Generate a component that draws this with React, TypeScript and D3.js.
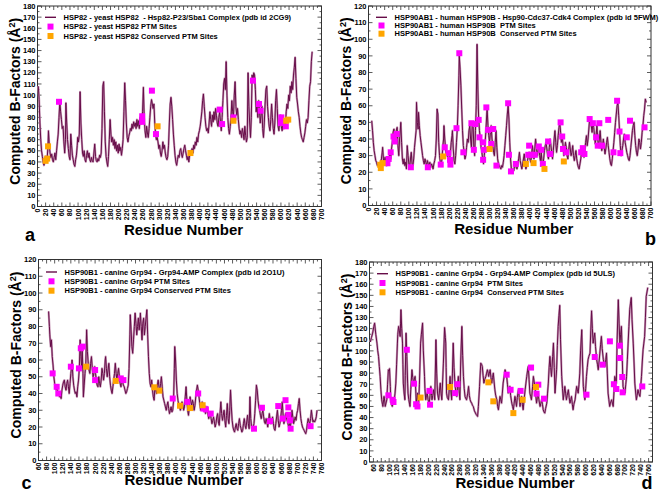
import React from 'react';
import * as d3 from 'd3';

type P = [number, number];

// ---------- Panel a : yeast HSP82 (2CG9) ----------
const lineA: P[] = [[2,108],[4,96],[6,75],[8,60],[10,50],[12,45],[14,40],[16,37],[18,42],[20,45],[22,40],[24,44],[26,55],[27,68],[29,55],[31,48],[33,44],[35,47],[37,42],[39,40],[41,44],[43,48],[45,42],[47,50],[49,58],[51,65],[53,80],[55,94],[57,85],[59,78],[61,70],[63,72],[65,58],[67,48],[69,60],[70,93],[72,75],[74,60],[76,52],[78,45],[80,42],[82,65],[84,55],[86,46],[88,42],[90,38],[92,36],[94,42],[96,46],[98,55],[99,62],[101,58],[103,65],[105,103],[107,75],[109,60],[111,48],[113,45],[115,50],[117,42],[119,40],[121,46],[123,50],[125,44],[127,48],[129,42],[131,40],[133,44],[135,41],[137,40],[139,48],[141,56],[143,45],[145,41],[147,40],[149,43],[151,41],[153,46],[155,44],[157,48],[159,70],[161,108],[163,112],[165,85],[167,58],[169,45],[171,40],[173,36],[175,45],[177,60],[179,78],[181,65],[183,58],[185,62],[187,55],[189,60],[191,52],[193,58],[195,50],[197,55],[199,48],[201,56],[203,50],[205,53],[207,46],[209,52],[211,60],[213,85],[215,111],[217,95],[219,75],[221,62],[223,58],[225,63],[227,66],[229,70],[231,68],[233,74],[235,70],[237,76],[239,72],[241,75],[243,70],[245,78],[247,72],[249,77],[251,70],[253,80],[255,74],[257,78],[259,85],[261,107],[263,80],[265,68],[267,62],[269,72],[271,66],[273,62],[275,70],[277,80],[279,90],[281,96],[283,92],[285,88],[287,92],[289,75],[291,65],[293,60],[295,62],[297,58],[299,52],[301,55],[303,48],[305,45],[307,50],[309,58],[311,52],[313,55],[315,48],[317,44],[319,42],[321,45],[323,55],[325,75],[327,92],[329,98],[331,90],[333,78],[335,65],[337,55],[339,46],[341,40],[343,37],[345,42],[347,46],[349,44],[351,50],[353,52],[355,47],[357,44],[359,48],[361,52],[363,55],[365,50],[367,46],[369,42],[371,45],[373,40],[375,46],[377,50],[379,47],[381,52],[383,48],[385,55],[387,52],[389,58],[391,55],[393,62],[395,58],[397,65],[399,68],[401,72],[403,78],[405,85],[407,95],[409,101],[411,90],[413,80],[415,72],[417,68],[419,70],[421,66],[423,75],[425,85],[427,78],[429,72],[431,82],[433,76],[435,85],[437,78],[439,88],[441,82],[443,75],[445,72],[447,80],[449,85],[451,76],[453,68],[455,80],[457,95],[459,110],[461,115],[463,105],[465,130],[467,100],[469,80],[471,70],[473,65],[475,72],[477,80],[479,95],[481,85],[483,80],[485,100],[487,112],[489,90],[491,82],[493,88],[495,78],[497,70],[499,65],[501,68],[503,62],[505,70],[507,66],[509,60],[511,72],[513,64],[515,58],[517,62],[519,120],[521,90],[523,75],[525,62],[527,80],[529,118],[531,112],[533,120],[535,118],[537,105],[539,85],[541,92],[543,80],[545,95],[547,88],[549,75],[551,82],[553,90],[555,70],[557,62],[559,75],[561,92],[563,105],[565,108],[567,90],[569,80],[571,72],[573,68],[575,78],[577,92],[579,80],[581,70],[583,65],[585,75],[587,95],[589,105],[591,88],[593,72],[595,68],[597,78],[599,82],[601,72],[603,68],[605,75],[607,70],[609,78],[611,72],[613,85],[615,92],[617,88],[619,100],[621,95],[623,108],[625,102],[627,112],[629,105],[631,118],[633,125],[635,134],[637,115],[639,98],[641,92],[643,85],[645,80],[647,72],[649,66],[651,62],[653,60],[655,58],[657,62],[659,66],[661,72],[663,78],[665,75],[667,80],[669,95],[671,108],[673,112],[675,130],[677,139]];
const ptmA: P[] = [[53,94],[258,81],[258,76],[282,104],[292,65],[449,87],[455,74],[483,80],[531,113],[546,92],[550,86],[601,80],[600,75],[612,72]];
const consA: P[] = [[20,41],[24,43],[26,54],[296,72],[377,48],[483,77],[613,77],[618,78]];

// ---------- Panel b : human HSP90B (5FWM) ----------
const lineB: P[] = [[8,51],[10,45],[12,38],[14,33],[16,30],[18,27],[20,26],[22,24],[24,25],[26,23],[28,24],[30,26],[32,28],[34,32],[35,35],[37,28],[39,26],[41,29],[43,26],[45,24],[47,27],[49,25],[51,29],[53,31],[55,28],[57,34],[59,38],[61,44],[63,46],[65,40],[67,38],[69,45],[71,47],[73,36],[75,30],[77,40],[79,46],[80,50],[82,38],[84,28],[86,25],[88,28],[90,24],[92,26],[94,22],[96,36],[98,30],[100,25],[102,23],[104,28],[106,32],[108,25],[110,24],[112,28],[114,35],[116,40],[118,45],[119,62],[121,50],[123,46],[124,56],[126,48],[128,42],[130,38],[132,34],[134,30],[136,27],[138,25],[140,28],[142,26],[144,24],[146,27],[148,25],[150,24],[152,26],[154,23],[156,25],[158,24],[160,22],[162,25],[164,27],[166,30],[168,40],[170,58],[172,55],[174,38],[176,30],[178,26],[180,24],[182,28],[184,35],[186,40],[187,48],[189,40],[191,34],[193,30],[195,32],[197,28],[199,26],[201,28],[203,32],[205,38],[207,42],[208,45],[210,34],[212,27],[214,25],[216,30],[218,38],[220,46],[222,60],[224,78],[225,90],[227,82],[229,72],[231,58],[233,45],[235,36],[237,32],[239,28],[241,30],[243,35],[245,40],[247,38],[249,45],[251,48],[253,40],[255,35],[257,48],[259,50],[261,35],[263,30],[265,45],[267,60],[269,97],[271,70],[273,52],[275,45],[277,40],[279,35],[281,32],[283,28],[285,25],[287,30],[289,38],[291,45],[293,55],[294,58],[296,48],[298,42],[300,38],[302,44],[304,48],[306,40],[308,36],[310,32],[312,30],[314,38],[316,45],[318,35],[320,28],[322,25],[324,24],[326,23],[328,22],[330,24],[332,23],[334,26],[336,30],[338,36],[340,42],[342,48],[344,55],[346,60],[348,52],[350,38],[352,28],[354,22],[356,20],[358,22],[360,21],[362,24],[364,26],[366,23],[368,22],[370,25],[372,28],[374,32],[376,27],[378,24],[380,22],[382,25],[384,28],[386,31],[388,26],[390,22],[392,24],[394,27],[396,30],[398,32],[400,28],[402,26],[404,30],[406,36],[408,32],[410,28],[412,34],[414,40],[416,35],[418,30],[420,33],[422,36],[424,30],[426,27],[428,32],[430,26],[432,24],[434,28],[436,33],[438,36],[440,38],[442,34],[444,30],[446,28],[448,35],[450,40],[452,36],[454,32],[456,28],[458,33],[460,40],[462,45],[464,38],[466,32],[468,36],[470,42],[472,47],[474,50],[476,44],[478,38],[480,42],[482,36],[484,30],[486,33],[488,38],[490,35],[492,30],[494,28],[496,33],[498,38],[500,34],[502,30],[504,32],[506,36],[508,30],[510,27],[512,30],[514,33],[516,28],[518,25],[520,23],[522,22],[524,25],[526,28],[528,32],[530,35],[532,31],[534,29],[536,33],[538,38],[540,42],[542,36],[544,40],[546,46],[548,52],[550,53],[552,48],[554,44],[556,50],[558,47],[560,42],[562,37],[564,42],[566,48],[568,40],[570,35],[572,40],[574,45],[576,38],[578,33],[580,36],[582,40],[584,35],[586,31],[588,34],[590,38],[592,41],[594,36],[596,32],[598,28],[600,25],[602,24],[604,28],[606,33],[608,38],[610,44],[612,50],[614,55],[616,60],[618,62],[620,54],[622,45],[624,36],[626,30],[628,33],[630,36],[632,40],[634,43],[636,38],[638,35],[640,32],[642,30],[644,28],[646,27],[648,30],[650,35],[652,40],[654,45],[656,48],[658,50],[660,42],[662,36],[664,32],[666,30],[668,34],[670,40],[672,38],[674,34],[676,38],[678,44],[680,48],[682,54],[684,58],[686,64],[688,62]];
const ptmB: P[] = [[47,25.4],[50,28],[55,32],[62,41.5],[65,38.5],[70,43],[105,23],[147,23],[179,24.6],[189,35],[198,31.5],[202,27.5],[203,24.6],[218,46.5],[225,91.6],[235,32],[255,49.5],[261,33.5],[265,49],[273,51.5],[275,41],[284,38],[284,27.5],[286,33.5],[292,59],[296,45.5],[304,37],[309,46],[317,24],[346,61.5],[348,30.5],[353,20.5],[365,25],[398,36],[396,30.5],[404,30.5],[412,30.5],[422,35.5],[428,33.5],[432,25],[445,38.5],[450,31],[476,50],[480,41.5],[482,34],[490,32],[527,32],[531,34.5],[535,31],[548,52],[556,49.5],[564,41],[568,36],[572,49.5],[579,36],[594,51.5],[607,32],[616,63],[622,44.5],[624,31.5],[640,41],[648,51],[684,47]];
const consB: P[] = [[29,24.5],[30.5,22.5],[35,25.5],[185,29.5],[300,34],[390,25],[409,25.5],[436,22],[484,26.5]];

// ---------- Panel c : canine Grp94 (2O1U) ----------
const lineC: P[] = [[85,89],[87,80],[88,75],[90,68],[92,72],[94,62],[96,57],[98,50],[100,46],[102,44],[104,42],[106,43],[108,40],[110,41],[112,38],[114,39],[116,37],[118,42],[120,45],[122,47],[124,48],[126,44],[128,42],[130,46],[132,48],[134,44],[136,40],[138,46],[140,52],[142,56],[143,60],[145,50],[147,45],[149,42],[151,40],[153,41],[155,38],[157,44],[159,48],[161,55],[163,72],[165,62],[167,55],[168,68],[170,52],[171,38],[173,45],[175,52],[177,58],[179,78],[181,65],[183,58],[185,54],[187,52],[189,58],[191,62],[193,55],[195,50],[197,52],[199,56],[201,52],[203,48],[205,45],[207,44],[209,50],[211,46],[213,44],[215,48],[217,55],[219,52],[221,48],[223,52],[225,60],[226,62],[228,55],[230,50],[232,54],[234,58],[236,50],[238,45],[240,42],[242,40],[244,44],[246,48],[248,52],[250,58],[252,52],[254,48],[256,52],[258,55],[260,50],[262,46],[264,44],[266,50],[268,47],[270,45],[272,44],[274,42],[276,40],[278,41],[280,43],[282,45],[284,55],[286,75],[287,87],[289,78],[291,68],[293,64],[295,72],[297,80],[299,88],[301,82],[303,75],[305,80],[307,85],[309,78],[311,83],[312,88],[314,80],[316,72],[318,82],[320,85],[322,75],[324,80],[326,85],[328,90],[330,75],[332,62],[334,52],[336,46],[338,44],[340,48],[342,42],[344,38],[346,36],[348,44],[350,42],[352,40],[354,45],[356,48],[358,44],[360,42],[362,46],[364,50],[366,44],[368,38],[370,36],[372,34],[374,32],[376,30],[378,33],[380,35],[382,31],[384,28],[386,30],[388,32],[390,29],[392,30],[394,35],[396,55],[397,68],[399,60],[401,48],[403,40],[405,36],[407,33],[409,32],[411,30],[413,32],[415,35],[417,33],[419,30],[421,32],[423,38],[425,44],[427,36],[429,30],[431,27],[433,32],[435,38],[437,35],[439,33],[441,36],[443,34],[445,30],[447,33],[449,38],[451,42],[453,45],[455,42],[457,38],[459,34],[461,30],[463,32],[465,35],[467,32],[469,30],[471,32],[473,28],[475,30],[477,32],[479,28],[481,25],[483,27],[485,28],[487,25],[489,22],[491,24],[493,26],[495,23],[497,20],[499,22],[501,26],[503,28],[505,23],[507,21],[509,28],[511,35],[513,28],[515,24],[517,27],[519,30],[521,24],[523,20],[525,27],[527,34],[529,25],[531,22],[533,30],[535,42],[537,32],[539,24],[541,20],[543,18],[545,17],[547,20],[549,22],[551,19],[553,18],[555,22],[557,25],[559,21],[561,19],[563,17],[565,18],[567,22],[569,25],[571,21],[573,19],[575,23],[577,27],[579,22],[581,19],[583,38],[585,25],[587,20],[589,18],[591,20],[593,22],[595,28],[597,36],[599,45],[601,42],[603,36],[605,32],[607,30],[609,27],[611,25],[613,28],[615,30],[617,26],[619,23],[621,22],[623,25],[625,23],[627,20],[629,24],[631,28],[633,24],[635,22],[637,24],[639,26],[641,22],[643,19],[645,18],[647,22],[649,26],[651,30],[653,24],[655,20],[657,22],[659,25],[661,30],[663,35],[665,27],[667,22],[669,24],[671,28],[673,26],[675,24],[677,22],[679,20],[681,22],[683,20],[685,24],[687,30],[689,26],[691,22],[693,24],[695,26],[697,24],[699,28],[701,30],[703,34],[705,37],[707,30],[709,25],[711,22],[713,20],[715,19],[717,18],[719,17],[721,16],[723,18],[725,22],[727,25],[729,23],[731,22],[733,25],[735,30],[737,26],[739,23],[741,24],[743,23],[745,24],[747,26],[749,30]];
const ptmC: P[] = [[95,52],[105,44],[109,40],[140,56],[160,55],[164.6,67],[169.6,68],[200,54],[200,48],[263.5,49],[270,48],[392,37],[428,35],[455,40],[468,31],[474,30.5],[486,28],[593,19],[612.7,31.5],[632.5,23.5],[653,32.5],[664,25],[671,36],[678,31.7],[678,27.3],[682,24],[683.6,19],[733,20.5]];
const consC: P[] = [[178,56],[251,47.5],[346.6,43.7],[359,41.7],[410,32.7],[435,31.3],[466,33]];

// ---------- Panel d : canine Grp94 (5ULS) ----------
const lineD: P[] = [[52,108],[55,112],[58,116],[61,122],[63,125],[66,115],[69,107],[71,100],[73,95],[75,86],[77,77],[79,65],[81,56],[83,52],[84,50],[86,56],[87,59],[89,54],[90,50],[92,53],[94,56],[96,70],[98,83],[100,82],[101,84],[103,68],[104,56],[106,52],[108,50],[110,54],[113,56],[115,62],[117,71],[119,88],[121,107],[122,115],[124,122],[126,118],[128,113],[129,125],[130,137],[132,120],[134,107],[135,88],[136,71],[138,62],[140,56],[141,78],[143,116],[145,95],[147,71],[148,62],[150,56],[152,52],[153,50],[155,65],[158,83],[160,76],[162,71],[164,74],[166,77],[168,62],[169,53],[171,58],[172,62],[174,56],[175,53],[177,70],[180,107],[182,115],[185,125],[187,100],[190,77],[191,66],[193,56],[195,60],[197,62],[199,56],[202,53],[204,60],[206,68],[208,60],[209,56],[211,60],[213,65],[215,60],[216,56],[218,90],[219,110],[221,80],[223,62],[225,58],[226,56],[228,64],[230,71],[232,62],[234,56],[236,72],[238,89],[240,110],[241,121],[243,112],[244,107],[245,85],[246,62],[248,58],[251,56],[253,66],[255,77],[257,64],[259,56],[261,80],[263,107],[265,85],[268,68],[270,62],[272,59],[274,68],[276,77],[278,64],[280,56],[282,90],[285,122],[287,96],[289,77],[291,66],[293,59],[295,57],[297,56],[300,62],[302,68],[304,60],[306,56],[308,54],[310,53],[312,51],[314,50],[317,46],[321,43],[323,42],[325,41],[327,50],[330,68],[332,82],[333,89],[335,88],[337,86],[339,78],[341,71],[343,74],[346,77],[348,80],[350,83],[352,80],[353,77],[355,80],[357,83],[359,76],[361,71],[363,76],[365,80],[367,72],[369,65],[371,60],[374,56],[376,50],[378,47],[380,53],[382,59],[384,56],[386,53],[388,62],[390,71],[393,78],[395,83],[397,80],[399,77],[401,70],[403,62],[405,65],[407,68],[409,60],[412,53],[414,50],[416,47],[418,53],[420,59],[422,55],[424,50],[426,58],[429,65],[431,58],[433,50],[435,55],[437,59],[439,52],[441,47],[443,55],[446,65],[448,71],[450,77],[452,82],[454,86],[456,74],[458,62],[460,59],[462,56],[465,68],[467,77],[469,72],[471,68],[473,60],[475,53],[477,58],[479,62],[481,56],[484,50],[486,53],[488,56],[490,52],[492,47],[494,45],[496,44],[498,48],[501,53],[503,62],[505,71],[507,85],[509,95],[511,85],[513,77],[516,95],[518,107],[520,85],[522,62],[524,72],[526,83],[528,105],[530,122],[532,132],[534,141],[536,110],[539,77],[541,66],[543,56],[545,62],[547,68],[549,62],[551,56],[553,60],[556,65],[558,58],[560,53],[562,56],[564,59],[566,52],[568,47],[570,52],[573,56],[575,62],[577,68],[579,65],[581,62],[583,70],[585,80],[587,100],[590,119],[592,90],[594,68],[596,62],[598,56],[600,66],[602,77],[604,85],[606,92],[608,95],[611,98],[613,118],[615,136],[617,120],[619,107],[621,112],[623,116],[625,104],[628,92],[630,88],[632,83],[634,90],[636,98],[638,106],[640,113],[642,102],[645,92],[647,89],[649,86],[651,92],[653,98],[655,80],[657,62],[659,56],[661,50],[663,53],[666,56],[668,53],[670,50],[672,63],[674,77],[676,74],[678,71],[680,110],[683,146],[685,125],[687,107],[689,115],[691,122],[693,95],[695,68],[697,65],[700,62],[702,70],[704,77],[706,92],[708,107],[710,122],[712,137],[714,143],[716,148],[718,128],[721,107],[723,90],[725,71],[727,63],[729,56],[731,60],[733,65],[735,62],[738,59],[740,68],[742,77],[744,90],[746,101],[748,107],[750,113],[752,130],[754,149],[756,153],[758,157]];
const ptmD: P[] = [[98,60],[109,56],[111,54],[145,101],[163.5,70.5],[168.6,52],[172,50],[202.5,64],[204,51.6],[268,62],[273.6,70],[399,78.6],[409,65],[434.5,64],[461,85],[475,61.5],[479.5,69.6],[494,57],[602,60.6],[623,94.5],[643,87.6],[661.6,108.6],[671.7,70],[678,65.7],[687,104.7],[687,93.6],[693,76.5],[694,62.7],[744,68]];
const consD: P[] = [[180,58],[255,67.5],[352.4,71.7],[365,54.6],[416,44],[439.6,56],[473.5,67.5]];

const legendA = ['HSP82 - yeast HSP82  - Hsp82-P23/Sba1 Complex (pdb id 2CG9)', 'HSP82 - yeast HSP82 PTM Sites', 'HSP82 - yeast HSP82 Conserved PTM Sites'];
const legendB = ['HSP90AB1 - human HSP90B - Hsp90-Cdc37-Cdk4 Complex (pdb id 5FWM)', 'HSP90AB1 - human HSP90B  PTM Sites', 'HSP90AB1 - human HSP90B  Conserved PTM Sites'];
const legendC = ['HSP90B1 - canine Grp94 - Grp94-AMP Complex (pdb id 2O1U)', 'HSP90B1 - canine Grp94 PTM Sites', 'HSP90B1 - canine Grp94 Conserved PTM Sites'];
const legendD = ['HSP90B1 - canine Grp94 - Grp94-AMP Complex (pdb id 5ULS)', 'HSP90B1 - canine Grp94  PTM Sites', 'HSP90B1 - canine Grp94  Conserved PTM Sites'];

const FONT = '"Liberation Sans", Arial, Helvetica, sans-serif';
const LINE_DARK = '#660c48';
const LINE_LIGHT = '#c89ab8';
const MAGENTA = '#ff00ff';
const ORANGE = '#ffa500';
const AXIS = '#333';

interface Cfg {
  left: number; right: number; top: number; bottom: number;
  xDomain: [number, number]; xLabelStart: number;
  yMax: number;
  line: P[]; ptm: P[]; cons: P[];
  legend: string[]; legendY: number[];
  letter: string; letterX: number; letterY: number;
  titleY: number;
}

const panels: Cfg[] = [
  { left: 37.5, right: 321.5, top: 6, bottom: 206.5, xDomain: [0, 700], xLabelStart: 0, yMax: 180,
    line: lineA, ptm: ptmA, cons: consA, legend: legendA, legendY: [17.3, 26.6, 36],
    letter: 'a', letterX: 25, letterY: 241, titleY: 235 },
  { left: 368.5, right: 651, top: 6, bottom: 205.5, xDomain: [0, 700], xLabelStart: 0, yMax: 120,
    line: lineB, ptm: ptmB, cons: consB, legend: legendB, legendY: [17.3, 25.5, 33.7],
    letter: 'b', letterX: 645, letterY: 245, titleY: 233.5 },
  { left: 38.5, right: 321.5, top: 259.5, bottom: 460.5, xDomain: [60, 760], xLabelStart: 60, yMax: 120,
    line: lineC, ptm: ptmC, cons: consC, legend: legendC, legendY: [272, 281.3, 290.7],
    letter: 'c', letterX: 21.5, letterY: 489, titleY: 485 },
  { left: 369.5, right: 652.5, top: 262, bottom: 462, xDomain: [50, 770], xLabelStart: 60, yMax: 180,
    line: lineD, ptm: ptmD, cons: consD, legend: legendD, legendY: [273.7, 283, 292.3],
    letter: 'd', letterX: 641.5, letterY: 489, titleY: 488 },
];

function Panel({ c }: { c: Cfg }) {
  const x = d3.scaleLinear().domain(c.xDomain).range([c.left, c.right]);
  const y = d3.scaleLinear().domain([0, c.yMax]).range([c.bottom, c.top]);
  const path = d3.line<P>().x(d => x(d[0])).y(d => y(d[1]))(c.line) || '';
  const xMajor = d3.range(c.xLabelStart, c.xDomain[1] + 0.01, 20);
  const xMinor = d3.range(Math.ceil(c.xDomain[0] / 10) * 10, c.xDomain[1] + 0.01, 10).filter(v => !xMajor.includes(v));
  const yMajor = d3.range(0, c.yMax + 0.01, 10);
  const yMinor = d3.range(5, c.yMax, 10);
  const M = 4, m = 2;
  const sq = 6;
  const lx = c.left + 26;
  const cx = (c.left + c.right) / 2;
  const cy = (c.top + c.bottom) / 2;
  return (
    <g>
      <rect x={c.left} y={c.top} width={c.right - c.left} height={c.bottom - c.top} fill="#fff" stroke={AXIS} strokeWidth={1} />
      <g stroke={AXIS} strokeWidth={0.8}>
        {xMajor.map(v => (
          <g key={'xM' + v}>
            <line x1={x(v)} x2={x(v)} y1={c.bottom} y2={c.bottom - M} />
            <line x1={x(v)} x2={x(v)} y1={c.top} y2={c.top + M} />
          </g>
        ))}
        {xMinor.map(v => (
          <g key={'xm' + v}>
            <line x1={x(v)} x2={x(v)} y1={c.bottom} y2={c.bottom - m} />
            <line x1={x(v)} x2={x(v)} y1={c.top} y2={c.top + m} />
          </g>
        ))}
        {yMajor.map(v => (
          <g key={'yM' + v}>
            <line x1={c.left} x2={c.left + M} y1={y(v)} y2={y(v)} />
            <line x1={c.right} x2={c.right - M} y1={y(v)} y2={y(v)} />
          </g>
        ))}
        {yMinor.map(v => (
          <g key={'ym' + v}>
            <line x1={c.left} x2={c.left + m} y1={y(v)} y2={y(v)} />
            <line x1={c.right} x2={c.right - m} y1={y(v)} y2={y(v)} />
          </g>
        ))}
      </g>
      <g fontFamily={FONT} fontWeight="bold" fill="#000">
        {yMajor.map(v => (
          <text key={'yl' + v} x={c.left - 2} y={y(v)} dy="0.35em" textAnchor="end" fontSize={7.5}>{v}</text>
        ))}
        {xMajor.map(v => (
          <text key={'xl' + v} transform={`translate(${x(v)},${c.bottom + 2}) rotate(-90)`} dy="0.35em" textAnchor="end" fontSize={7}>{v}</text>
        ))}
      </g>
      <path d={path} fill="none" stroke={LINE_LIGHT} strokeWidth={2.2} strokeLinejoin="round" />
      <path d={path} fill="none" stroke={LINE_DARK} strokeWidth={1} strokeLinejoin="round" />
      {c.ptm.map((d, i) => (
        <rect key={'p' + i} x={x(d[0]) - sq / 2} y={y(d[1]) - sq / 2} width={sq} height={sq} fill={MAGENTA} />
      ))}
      {c.cons.map((d, i) => (
        <rect key={'o' + i} x={x(d[0]) - sq / 2} y={y(d[1]) - sq / 2} width={sq} height={sq} fill={ORANGE} />
      ))}
      <g fontFamily={FONT} fontWeight="bold" fontSize={7.5} fill="#000">
        <line x1={c.left + 7.5} x2={c.left + 18.5} y1={c.legendY[0]} y2={c.legendY[0]} stroke={LINE_DARK} strokeWidth={1.4} />
        <rect x={c.left + 13 - sq / 2} y={c.legendY[1] - sq / 2} width={sq} height={sq} fill={MAGENTA} />
        <rect x={c.left + 13 - sq / 2} y={c.legendY[2] - sq / 2} width={sq} height={sq} fill={ORANGE} />
        {c.legend.map((t, i) => (
          <text key={'lg' + i} x={lx} y={c.legendY[i]} dy="0.35em" style={{ whiteSpace: 'pre' }}>{t}</text>
        ))}
      </g>
      <text x={cx + 4} y={c.titleY} textAnchor="middle" fontFamily={FONT} fontWeight="bold" fontSize={15}>Residue Number</text>
      <text transform={`translate(${c.left - 22.5},${cy - 5}) rotate(-90)`} textAnchor="middle" dy="0.35em" fontFamily={FONT} fontWeight="bold" fontSize={14}>
        Computed B-Factors (Å<tspan dy={-5} fontSize={9}>2</tspan><tspan dy={5}>)</tspan>
      </text>
      <text x={c.letterX} y={c.letterY} fontFamily={FONT} fontWeight="bold" fontSize={18}>{c.letter}</text>
    </g>
  );
}

export default function App() {
  return (
    <svg width={660} height={493} style={{ position: 'absolute', left: 0, top: 0, background: '#fff' }}>
      <rect width={660} height={493} fill="#fff" />
      {panels.map((c, i) => <Panel key={i} c={c} />)}
    </svg>
  );
}
